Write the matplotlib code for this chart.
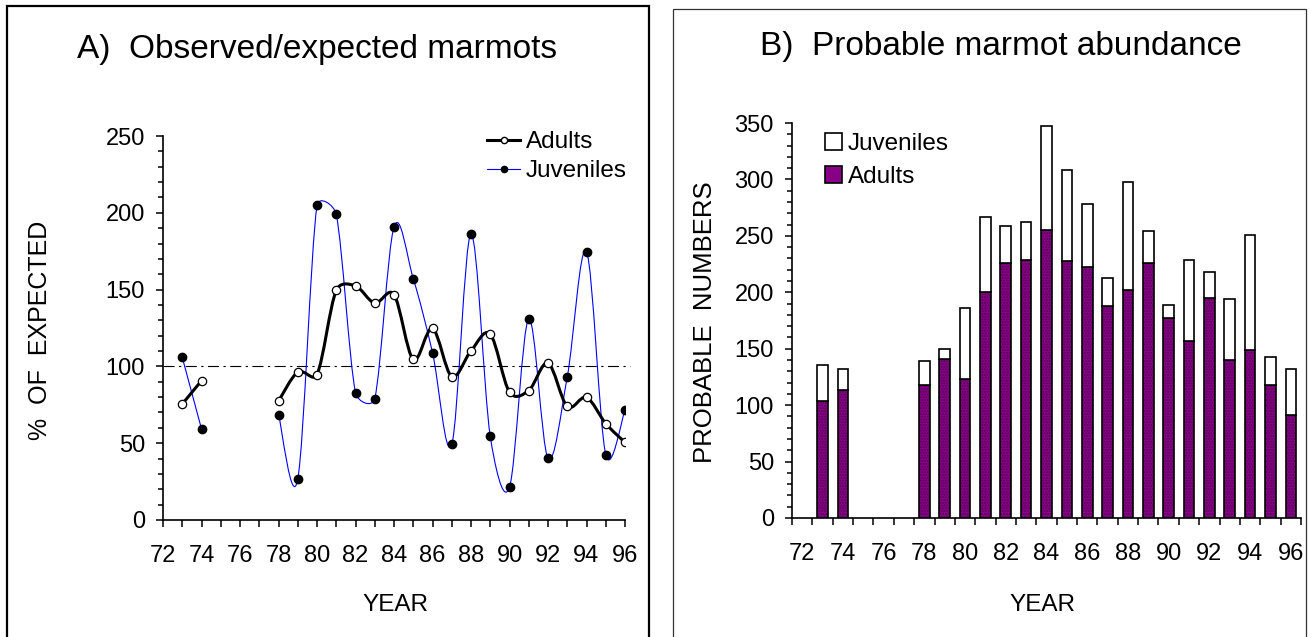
import matplotlib
matplotlib.use("Agg")
import matplotlib.pyplot as plt
import numpy as np
from matplotlib.path import Path
from matplotlib.patches import PathPatch, Rectangle
from matplotlib.lines import Line2D
from matplotlib.ticker import MultipleLocator, FixedLocator

plt.rcParams['font.family'] = ['Liberation Sans', 'DejaVu Sans']

# panel A: observed / expected (%)
years_a = [73, 74, 78, 79, 80, 81, 82, 83, 84, 85, 86, 87, 88, 89, 90, 91, 92, 93, 94, 95, 96]
adults_pct = [75.5, 90.7, 77.4, 96.3, 94.7, 149.5, 152.4, 141.2, 146.8, 104.5, 124.7,
              93.4, 110.1, 121.0, 83.2, 84.3, 102.1, 73.9, 79.8, 62.8, 50.5]
juveniles_pct = [105.9, 59.3, 68.6, 26.6, 204.8, 198.9, 83.0, 79.0, 190.7, 157.2, 109.0,
                 49.2, 186.2, 54.5, 21.3, 130.9, 40.2, 93.1, 174.7, 42.6, 71.5]

# panel B: probable numbers
years_b = [73, 74, 78, 79, 80, 81, 82, 83, 84, 85, 86, 87, 88, 89, 90, 91, 92, 93, 94, 95, 96]
adults_n = [104, 113, 118, 141, 123, 200, 226, 229, 255, 228, 222, 188, 202, 226,
            177, 157, 195, 140, 149, 118, 91]
totals_n = [136, 132, 139, 150, 186, 267, 259, 262, 347, 308, 278, 213, 298, 254,
            189, 229, 218, 194, 251, 143, 132]
juveniles_n = [t - a for t, a in zip(totals_n, adults_n)]

W, H = 1309, 637


def smooth_path(ax, xs, ys):
    # excel-like smoothed line: bezier with catmull-rom tangents,
    # control arms capped at half the segment length (in pixels)
    pts = ax.transData.transform(np.column_stack([xs, ys]).astype(float))
    n = len(pts)
    verts = [pts[0]]
    codes = [Path.MOVETO]
    for i in range(n - 1):
        p0 = pts[max(i - 1, 0)]
        p1 = pts[i]
        p2 = pts[i + 1]
        p3 = pts[min(i + 2, n - 1)]
        half = np.hypot(*(p2 - p1)) / 2
        t1 = (p2 - p0) / 6
        t2 = (p3 - p1) / 6
        l1, l2 = np.hypot(*t1), np.hypot(*t2)
        if l1 > half:
            t1 = t1 * half / l1
        if l2 > half:
            t2 = t2 * half / l2
        verts += [p1 + t1, p2 - t2, p2]
        codes += [Path.CURVE4] * 3
    verts = ax.transData.inverted().transform(np.array(verts))
    return Path(verts, codes)


def runs(xs, ys):
    out, cur = [], [0]
    for i in range(1, len(xs)):
        if xs[i] - xs[i - 1] > 1:
            out.append(cur)
            cur = []
        cur.append(i)
    out.append(cur)
    return [([xs[i] for i in r], [ys[i] for i in r]) for r in out]


fig = plt.figure(figsize=(W / 100, H / 100), dpi=100)

# frames around the panels
fig.add_artist(Rectangle((7 / W, -0.05), (649 - 7) / W, 1.05 - 6 / H, transform=fig.transFigure,
                         fill=False, lw=1.6, ec='black'))
fig.add_artist(Rectangle((673 / W, -0.05), (1306 - 673) / W, 1.05 - 9 / H, transform=fig.transFigure,
                         fill=False, lw=0.9, ec='#333333'))

# ---------------- panel A ----------------
ax1 = fig.add_axes([163 / W, 1 - 520 / H, (625 - 163) / W, (520 - 136) / H])
ax1.set_xlim(72, 96)
ax1.set_ylim(0, 250)
for xs, ys in runs(years_a, juveniles_pct):
    ax1.add_patch(PathPatch(smooth_path(ax1, xs, ys), fill=False, ec='#0000ff', lw=0.8, zorder=2))
for xs, ys in runs(years_a, adults_pct):
    ax1.add_patch(PathPatch(smooth_path(ax1, xs, ys), fill=False, ec='black', lw=2.2, zorder=3,
                            capstyle='round', joinstyle='round'))
ax1.plot(years_a, juveniles_pct, 'o', ms=6, mfc='black', mec='black', zorder=4)
ax1.plot(years_a, adults_pct, 'o', ms=6, mfc='white', mec='black', mew=0.9, zorder=5)
ax1.axhline(100, xmax=1.01, color='black', lw=0.8, ls=(0, (10, 4, 2, 4)), clip_on=False, zorder=1)

ax1.xaxis.set_major_locator(MultipleLocator(2))
ax1.xaxis.set_minor_locator(MultipleLocator(1))
ax1.yaxis.set_major_locator(MultipleLocator(50))
ax1.yaxis.set_minor_locator(MultipleLocator(10))

handles = [Line2D([], [], color='black', lw=2.2, marker='o', ms=4.5, mfc='white', mec='black'),
           Line2D([], [], color='#0000ff', lw=0.8, marker='o', ms=4.5, mfc='black', mec='black')]
ax1.legend(handles, ['Adults', 'Juveniles'], loc='upper right', bbox_to_anchor=(1.052, 1.07),
           frameon=False, fontsize=17.5, handlelength=1.35, handletextpad=0.25, labelspacing=0.3)

ax1.set_title('A)  Observed/expected marmots', fontsize=24, pad=0, x=(317 - 163) / (625 - 163),
              y=1 + (136 - 49) / (520 - 136), va='center')
fig.text(395 / W, 1 - 605 / H, 'YEAR', fontsize=17.5, ha='center', va='center')
fig.text(40 / W, 1 - 330 / H, '%  OF  EXPECTED', fontsize=18, rotation=90, ha='center', va='center')

# ---------------- panel B ----------------
ax2 = fig.add_axes([792 / W, 1 - 518 / H, (1301 - 792) / W, (518 - 123) / H])
ax2.bar(years_b, adults_n, width=0.52, color='#880088', ec='#560056', hatch='......', lw=0, zorder=2)
ax2.bar(years_b, adults_n, width=0.52, fill=False, ec='black', lw=1.2, zorder=3)
ax2.bar(years_b, juveniles_n, bottom=adults_n, width=0.52, color='white', ec='black', lw=1.2, zorder=3)

ax2.set_xlim(71.5, 96.5)
ax2.set_ylim(0, 350)
ax2.xaxis.set_major_locator(FixedLocator(list(range(72, 97, 2))))
ax2.xaxis.set_minor_locator(FixedLocator(list(np.arange(71.5, 97, 1.0))))
ax2.yaxis.set_major_locator(MultipleLocator(50))
ax2.yaxis.set_minor_locator(MultipleLocator(10))

legend_b = [Rectangle((0, 0), 1, 1, fc='white', ec='black', lw=1.2),
            Rectangle((0, 0), 1, 1, fc='#880088', ec='black', lw=1.2)]
ax2.legend(legend_b, ['Juveniles', 'Adults'], loc='upper left', bbox_to_anchor=(0.022, 1.03),
           frameon=False, fontsize=17.5, handlelength=0.7, handleheight=0.7,
           handletextpad=0.25, labelspacing=0.45)

ax2.set_title('B)  Probable marmot abundance', fontsize=24, pad=0, x=(1001 - 792) / (1301 - 792),
              y=1 + (123 - 46) / (518 - 123), va='center')
fig.text(1042 / W, 1 - 605 / H, 'YEAR', fontsize=17.5, ha='center', va='center')
fig.text(705 / W, 1 - 322 / H, 'PROBABLE  NUMBERS', fontsize=18.5, rotation=90, ha='center', va='center')

for ax in (ax1, ax2):
    ax.spines['top'].set_visible(False)
    ax.spines['right'].set_visible(False)
    ax.spines['left'].set_linewidth(1.2)
    ax.spines['bottom'].set_linewidth(1.2)
    ax.set_facecolor('none')
    ax.tick_params(which='major', direction='out', length=5, width=1.1, labelsize=17, color='black')
    ax.tick_params(which='minor', direction='out', length=3.5, width=1.1, color='black')
    ax.tick_params(axis='x', which='both', length=5, pad=13)
    ax.tick_params(axis='y', pad=8)
ax2.tick_params(axis='x', which='major', length=0, pad=18)

fig.savefig('out.png', dpi=100)
